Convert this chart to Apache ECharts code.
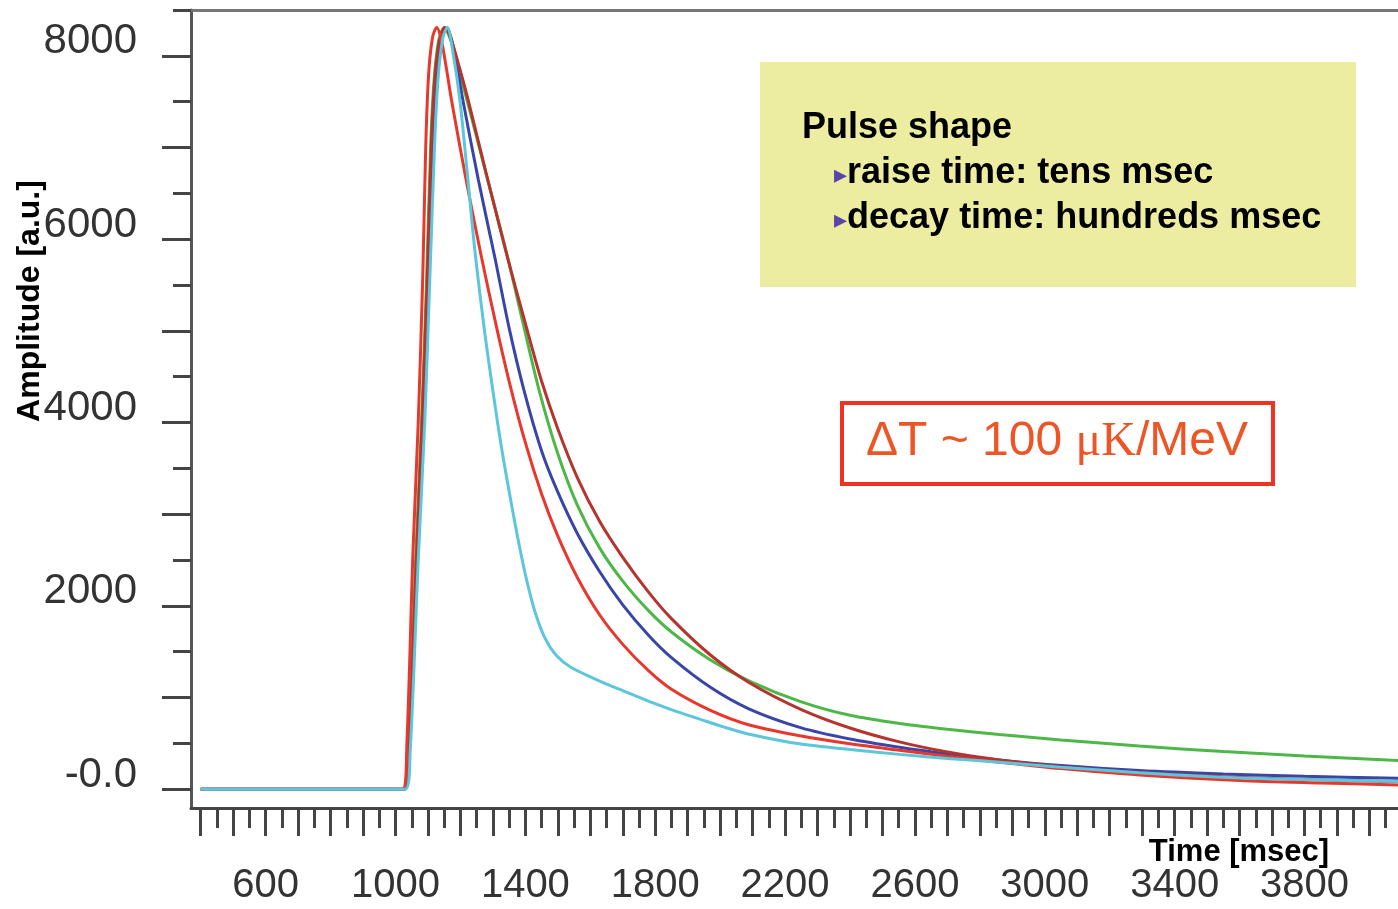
<!DOCTYPE html>
<html>
<head>
<meta charset="utf-8">
<title>Pulse shape</title>
<script src="https://cdn.jsdelivr.net/npm/echarts@6/dist/echarts.min.js"></script>
<style>
    html, body {margin: 0; padding: 0; background: #fff;}
    #chart {width: 1398px; height: 909px;}
</style>
</head>
<body>
<div id="chart"></div>
<script>
// axis labels
var xLabelValues = [600, 1000, 1400, 1800, 2200, 2600, 3000, 3400, 3800];
var yLabelValues = [0, 2000, 4000, 6000, 8000];

// pulses [time msec, amplitude a.u.]
var redPulse = [[400, 0], [1022, 0], [1035, 500], [1054, 2613], [1070, 4000], [1084, 5600], [1093, 7000],
    [1102, 7800], [1114, 8200], [1127, 8310], [1140, 8190], [1155, 7900], [1172, 7527], [1220, 6600],
    [1265, 5800], [1310, 5060], [1352, 4420], [1400, 3780], [1450, 3220], [1500, 2760], [1560, 2310],
    [1629, 1900], [1700, 1580], [1780, 1290], [1850, 1090], [1970, 860], [2090, 700], [2250, 580],
    [2400, 495], [2552, 425], [2700, 360], [2860, 295], [3050, 225], [3291, 155], [3600, 95],
    [3850, 68], [4088, 47]];
var darkRedPulse = [[400, 0], [1028, 0], [1042, 450], [1064, 2500], [1082, 4000], [1098, 5600], [1110, 7000],
    [1120, 7700], [1134, 8150], [1152, 8310], [1172, 8170], [1197, 7870], [1225, 7500], [1282, 6680],
    [1345, 5800], [1400, 5080], [1450, 4450], [1500, 3930], [1560, 3400], [1629, 2920], [1700, 2530],
    [1780, 2147], [1850, 1861], [1970, 1464], [2090, 1162], [2250, 869], [2400, 668], [2552, 516],
    [2700, 406], [2860, 319], [3050, 245], [3291, 181], [3550, 136], [3800, 106], [4088, 82]];
var greenPulse = [[400, 0], [1026, 0], [1040, 450], [1062, 2500], [1080, 4000], [1096, 5600], [1108, 7000],
    [1118, 7700], [1132, 8150], [1150, 8310], [1170, 8170], [1195, 7850], [1223, 7480], [1280, 6700],
    [1342, 5850], [1395, 5050], [1444, 4330], [1500, 3660], [1560, 3100], [1629, 2630], [1700, 2270],
    [1780, 1945], [1850, 1715], [1970, 1410], [2090, 1180], [2250, 953], [2400, 806], [2552, 717],
    [2700, 654], [2860, 598], [3050, 538], [3291, 471], [3550, 411], [3800, 363], [4088, 314]];
var bluePulse = [[400, 0], [1028, 0], [1043, 420], [1066, 2500], [1085, 4000], [1101, 5600], [1113, 7000],
    [1124, 7750], [1140, 8180], [1158, 8300], [1178, 8100], [1207, 7527], [1255, 6650], [1306, 5800],
    [1350, 5030], [1398, 4320], [1450, 3690], [1500, 3240], [1560, 2790], [1629, 2372], [1700, 2011],
    [1780, 1677], [1850, 1435], [1970, 1111], [2090, 874], [2250, 669], [2400, 548], [2552, 458],
    [2700, 385], [2860, 319], [3050, 258], [3291, 203], [3550, 166], [3800, 141], [4088, 119]];
var cyanPulse = [[400, 0], [1030, 0], [1045, 400], [1070, 2500], [1090, 4000], [1106, 5600], [1120, 7000],
    [1131, 7750], [1146, 8200], [1160, 8310], [1175, 8080], [1198, 7527], [1220, 6760], [1244, 5890],
    [1275, 4980], [1306, 4200], [1330, 3650], [1355, 3150], [1380, 2680], [1404, 2280], [1430, 1930],
    [1460, 1650], [1495, 1460], [1540, 1330], [1629, 1180], [1700, 1075], [1783, 955], [1860, 855],
    [1937, 765], [2010, 680], [2090, 600], [2244, 495], [2400, 432], [2552, 380], [2700, 335],
    [2860, 295], [3050, 240], [3291, 180], [3550, 130], [3800, 105], [4088, 83]];

var xMin = 370, xMax = 4088;
var yMin = -205, yMax = 8500;

// tick positions: long every 100 / 1000, short in between
var xLongTicks = [], xShortTicks = [], yLongTicks = [], yShortTicks = [];
for (var t = 400; t <= 4050; t += 100) {
    xLongTicks.push(t);
    xShortTicks.push(t + 50);
}
for (var a = 0; a <= 8000; a += 1000) {
    yLongTicks.push(a);
    yShortTicks.push(a + 500);
}

var tickStyle = {color: '#444', width: 3};

function pulseSeries(name, data, color) {
    return {
        name: name,
        type: 'line',
        data: data,
        showSymbol: false,
        smooth: 0.3,
        lineStyle: {color: color, width: 3},
        itemStyle: {color: color}
    };
}

var chart = echarts.init(document.getElementById('chart'));
var option = {
    animation: false,
    backgroundColor: '#fff',
    grid: {left: 191, right: 0, top: 10, bottom: 101, containLabel: false, outerBoundsMode: 'none'},
    xAxis: [
        {
            type: 'value', min: xMin, max: xMax, position: 'bottom',
            axisLine: {onZero: false, lineStyle: {color: '#444', width: 3}},
            axisTick: {customValues: xLongTicks, length: 28, lineStyle: tickStyle},
            axisLabel: {
                customValues: xLabelValues, margin: 58,
                fontFamily: 'Liberation Sans', fontSize: 40, color: '#333',
                formatter: function (v) {
                    return String(v);
                }
            },
            splitLine: {show: false}
        },
        {
            type: 'value', min: xMin, max: xMax, position: 'bottom',
            axisLine: {show: false, onZero: false},
            axisTick: {customValues: xShortTicks, length: 20, lineStyle: tickStyle},
            axisLabel: {show: false},
            splitLine: {show: false}
        },
        {
            // top border
            type: 'value', min: xMin, max: xMax, position: 'top',
            axisLine: {onZero: false, lineStyle: {color: '#777', width: 3}},
            axisTick: {show: false},
            axisLabel: {show: false},
            splitLine: {show: false}
        }
    ],
    yAxis: [
        {
            type: 'value', min: yMin, max: yMax, position: 'left',
            axisLine: {show: true, onZero: false, lineStyle: {color: '#555', width: 3}},
            axisTick: {show: true, customValues: yLongTicks, length: 29, lineStyle: tickStyle},
            axisLabel: {
                customValues: yLabelValues,
                margin: 54,
                verticalAlign: 'bottom',
                lineHeight: 28,
                fontFamily: 'Liberation Sans', fontSize: 42, color: '#333',
                formatter: function (v) {
                    return v === 0 ? '-0.0' : String(v);
                }
            },
            splitLine: {show: false}
        },
        {
            type: 'value', min: yMin, max: yMax, position: 'left',
            axisLine: {show: false, onZero: false},
            axisTick: {show: true, customValues: yShortTicks, length: 18, lineStyle: tickStyle},
            axisLabel: {show: false},
            splitLine: {show: false}
        }
    ],
    series: [
        pulseSeries('green', greenPulse, '#4db848'),
        pulseSeries('blue', bluePulse, '#3a45a8'),
        pulseSeries('dark red', darkRedPulse, '#b5342e'),
        pulseSeries('red', redPulse, '#e8372c'),
        pulseSeries('cyan', cyanPulse, '#5cc6dc')
    ],
    graphic: [
        {
            type: 'text', x: 30, y: 301, rotation: Math.PI / 2,
            style: {
                text: 'Amplitude [a.u.]', fill: '#000', align: 'center', verticalAlign: 'middle',
                font: 'bold 32px "Liberation Sans", Arial, sans-serif'
            }
        },
        {
            type: 'text', x: 1239, y: 852,
            style: {
                text: 'Time [msec]', fill: '#000', align: 'center', verticalAlign: 'middle',
                font: 'bold 31px "Liberation Sans", Arial, sans-serif'
            }
        },
        // note box
        {
            type: 'rect', shape: {x: 760, y: 62, width: 596, height: 225},
            style: {fill: '#ededa2'}
        },
        {
            type: 'text', x: 802, y: 128,
            style: {
                text: 'Pulse shape', fill: '#000', align: 'left', verticalAlign: 'middle',
                font: 'bold 36px "Liberation Sans", Arial, sans-serif'
            }
        },
        {
            type: 'text', x: 834, y: 173,
            style: {
                text: '{b|▸}raise time: tens msec', fill: '#000', align: 'left', verticalAlign: 'middle',
                font: 'bold 36px "Liberation Sans", Arial, sans-serif',
                rich: {b: {fontSize: 26, fill: '#5a44a8', fontFamily: 'DejaVu Sans', padding: [6, 0, 0, 0]}}
            }
        },
        {
            type: 'text', x: 834, y: 218,
            style: {
                text: '{b|▸}decay time: hundreds msec', fill: '#000', align: 'left', verticalAlign: 'middle',
                font: 'bold 36px "Liberation Sans", Arial, sans-serif',
                rich: {b: {fontSize: 26, fill: '#5a44a8', fontFamily: 'DejaVu Sans', padding: [6, 0, 0, 0]}}
            }
        },
        // delta T box
        {
            type: 'rect', shape: {x: 842, y: 403, width: 431, height: 81},
            style: {fill: '#fff', stroke: '#ee3322', lineWidth: 4}
        },
        {
            type: 'text', x: 1057, y: 442,
            style: {
                text: 'ΔT ~ 100 {s|μK}/MeV', fill: '#ee5526', align: 'center', verticalAlign: 'middle',
                font: '48px "Liberation Sans", Arial, sans-serif',
                rich: {s: {fontFamily: 'Liberation Serif', fontSize: 48, fill: '#ee5526'}}
            }
        }
    ]
};
chart.setOption(option);
</script>
</body>
</html>
